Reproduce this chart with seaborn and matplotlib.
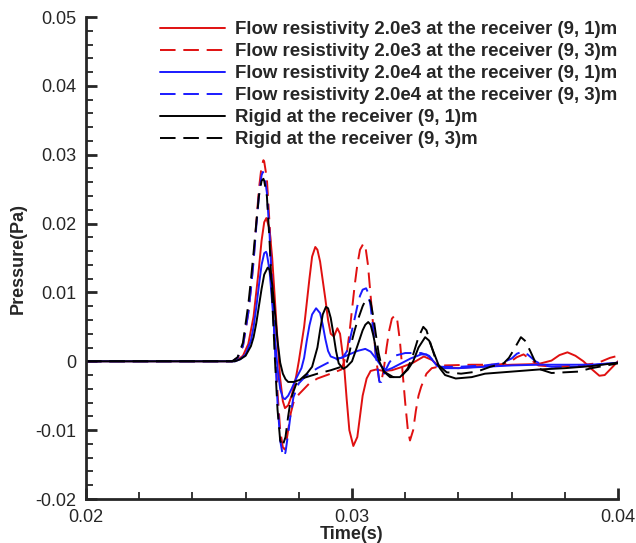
import matplotlib
matplotlib.use("Agg")
import matplotlib.pyplot as plt
from matplotlib.ticker import AutoMinorLocator
import pandas as pd
import seaborn as sns

# series labels
labels = [
    "Flow resistivity 2.0e3 at the receiver (9, 1)m",
    "Flow resistivity 2.0e3 at the receiver (9, 3)m",
    "Flow resistivity 2.0e4 at the receiver (9, 1)m",
    "Flow resistivity 2.0e4 at the receiver (9, 3)m",
    "Rigid at the receiver (9, 1)m",
    "Rigid at the receiver (9, 3)m",
]

# flow resistivity 2.0e3, receiver (9,1)
t_rs = [0.020, 0.0255, 0.0257, 0.0259, 0.0261, 0.0263, 0.0265, 0.0266, 0.0267, 0.02678,
        0.0269, 0.0270, 0.0271, 0.0272, 0.0273, 0.0274, 0.02748, 0.0276, 0.02773, 0.0279,
        0.0280, 0.0282, 0.0284, 0.0285, 0.02862, 0.0287, 0.0288, 0.0290, 0.0291, 0.0292,
        0.02932, 0.02945, 0.02955, 0.0297, 0.0298, 0.0299, 0.03005, 0.0302, 0.0303, 0.0304,
        0.03055, 0.0307, 0.0309, 0.0312, 0.0315, 0.0319, 0.0323, 0.0327, 0.0330, 0.0333,
        0.0340, 0.0350, 0.0360, 0.0370, 0.0375, 0.0378, 0.0381, 0.0384, 0.0387, 0.0390,
        0.0393, 0.0395, 0.0398, 0.0400]
p_rs = [0, 0, 0.0002, 0.0008, 0.0025, 0.0065, 0.0135, 0.0175, 0.0202, 0.0208,
        0.0192, 0.0150, 0.0090, 0.0030, -0.0025, -0.0058, -0.0068, -0.0064, -0.0050, -0.0022,
        0.0000, 0.0050, 0.0120, 0.0152, 0.0166, 0.0162, 0.0145, 0.0090, 0.0060, 0.0040,
        0.0036, 0.0048, 0.0040, -0.0005, -0.0055, -0.0100, -0.0123, -0.0110, -0.0080, -0.0050,
        -0.0025, -0.0014, -0.0012, -0.0014, -0.0013, -0.0008, -0.0002, 0.0007, 0.0002, -0.0008,
        -0.0010, -0.0007, -0.0005, -0.0004, 0.0001, 0.0009, 0.0013, 0.0008, 0.0000, -0.0011,
        -0.0021, -0.0020, -0.0008, 0.0000]

# flow resistivity 2.0e3, receiver (9,3)
t_rd = [0.020, 0.0255, 0.0257, 0.0259, 0.0261, 0.0262, 0.0263, 0.0264, 0.0265, 0.0266,
        0.02667, 0.0267, 0.0268, 0.0269, 0.0270, 0.0271, 0.0272, 0.0273, 0.0274, 0.02747,
        0.0275, 0.0276, 0.0277, 0.0278, 0.0280, 0.0282, 0.0284, 0.0287, 0.0292, 0.0296,
        0.0298, 0.0299, 0.0300, 0.0301, 0.0302, 0.0303, 0.03043, 0.0305, 0.0306, 0.0307,
        0.0308, 0.0309, 0.03103, 0.0311, 0.0312, 0.0313, 0.0314, 0.0315, 0.03162, 0.0317,
        0.0318, 0.0319, 0.0320, 0.0321, 0.03218, 0.0323, 0.0324, 0.0325, 0.0326, 0.0328,
        0.0330, 0.0335, 0.0345, 0.0355, 0.0359, 0.0362, 0.03645, 0.0367, 0.0370, 0.0376,
        0.0385, 0.0392, 0.0397, 0.0400]
p_rd = [0, 0, 0.0005, 0.0022, 0.0070, 0.0105, 0.0148, 0.0200, 0.0250, 0.0283,
        0.0292, 0.0290, 0.0265, 0.0200, 0.0120, 0.0035, -0.0045, -0.0100, -0.0125, -0.0128,
        -0.0125, -0.0100, -0.0075, -0.0060, -0.0048, -0.0040, -0.0032, -0.0025, -0.0018, -0.0012,
        0.0010, 0.0040, 0.0075, 0.0110, 0.0140, 0.0162, 0.0171, 0.0168, 0.0140, 0.0095,
        0.0050, 0.0005, -0.0030, -0.0030, -0.0010, 0.0020, 0.0045, 0.0062, 0.0067, 0.0060,
        0.0030, -0.0015, -0.0060, -0.0100, -0.0115, -0.0100, -0.0072, -0.0050, -0.0037, -0.0018,
        -0.0010, -0.0006, -0.0005, -0.0005, -0.0002, 0.0006, 0.0010, 0.0003, -0.0006, -0.0008,
        -0.0006, -0.0003, 0.0005, 0.0008]

# flow resistivity 2.0e4, receiver (9,1)
t_bs = [0.020, 0.0256, 0.0258, 0.0260, 0.0262, 0.0263, 0.0264, 0.0265, 0.0266, 0.0267,
        0.02677, 0.0268, 0.0269, 0.0270, 0.0271, 0.0272, 0.0273, 0.0274, 0.02748, 0.0276,
        0.02773, 0.0279, 0.0281, 0.0282, 0.0283, 0.0284, 0.0285, 0.02865, 0.0288, 0.0289,
        0.0290, 0.0291, 0.0292, 0.0294, 0.0296, 0.0299, 0.0302, 0.0305, 0.0307, 0.0309,
        0.0311, 0.0313, 0.0315, 0.0318, 0.0322, 0.0326, 0.0328, 0.0330, 0.0332, 0.0335,
        0.0340, 0.0350, 0.0360, 0.0370, 0.0380, 0.0390, 0.0400]
p_bs = [0, 0, 0.0003, 0.0010, 0.0030, 0.0050, 0.0078, 0.0110, 0.0140, 0.0157,
        0.0159, 0.0156, 0.0132, 0.0085, 0.0035, -0.0010, -0.0040, -0.0053, -0.0055, -0.0050,
        -0.0040, -0.0025, -0.0010, 0.0005, 0.0030, 0.0052, 0.0068, 0.0077, 0.0070, 0.0053,
        0.0032, 0.0015, 0.0007, 0.0004, 0.0005, 0.0010, 0.0015, 0.0018, 0.0014, 0.0004,
        -0.0007, -0.0013, -0.0010, -0.0004, 0.0004, 0.0010, 0.0010, 0.0003, -0.0007, -0.0010,
        -0.0010, -0.0008, -0.0006, -0.0005, -0.0005, -0.0005, -0.0002]

# flow resistivity 2.0e4, receiver (9,3)
t_bd = [0.020, 0.0255, 0.0257, 0.0259, 0.0261, 0.0262, 0.0263, 0.0264, 0.0265, 0.0266,
        0.02665, 0.0267, 0.0268, 0.0269, 0.0270, 0.0271, 0.0272, 0.0273, 0.0274, 0.02745,
        0.0275, 0.0276, 0.0277, 0.0278, 0.0280, 0.0283, 0.0287, 0.0292, 0.02966, 0.0298,
        0.0299, 0.0300, 0.0301, 0.0302, 0.0303, 0.0304, 0.03053, 0.0306, 0.0307, 0.0308,
        0.0309, 0.03103, 0.0311, 0.0312, 0.0314, 0.0316, 0.0320, 0.0326, 0.0329, 0.0331,
        0.0333, 0.0340, 0.0350, 0.0356, 0.0360, 0.0362, 0.0364, 0.0366, 0.0369, 0.0372,
        0.0375, 0.0385, 0.0395, 0.0400]
p_bd = [0, 0, 0.0005, 0.0022, 0.0070, 0.0105, 0.0145, 0.0195, 0.0240, 0.0270,
        0.0275, 0.0272, 0.0245, 0.0185, 0.0105, 0.0020, -0.0060, -0.0115, -0.0137, -0.0138,
        -0.0132, -0.0105, -0.0075, -0.0052, -0.0032, -0.0020, -0.0010, 0.0000, 0.0006, 0.0014,
        0.0028, 0.0045, 0.0062, 0.0080, 0.0095, 0.0104, 0.0106, 0.0100, 0.0080, 0.0045,
        0.0008, -0.0030, -0.0030, -0.0018, -0.0002, 0.0008, 0.0012, 0.0012, 0.0008, -0.0002,
        -0.0008, -0.0008, -0.0006, -0.0003, 0.0004, 0.0011, 0.0014, 0.0010, 0.0000, -0.0006,
        -0.0008, -0.0008, -0.0004, -0.0002]

# rigid, receiver (9,1)
t_ks = [0.020, 0.0256, 0.0258, 0.0260, 0.0262, 0.0263, 0.0264, 0.0265, 0.0266, 0.0267,
        0.02683, 0.0269, 0.0270, 0.0271, 0.0272, 0.0273, 0.0274, 0.0275, 0.0276, 0.0278,
        0.02804, 0.0283, 0.0285, 0.0287, 0.0288, 0.0289, 0.02902, 0.0291, 0.0292, 0.0293,
        0.0294, 0.0295, 0.02967, 0.0298, 0.0300, 0.0302, 0.0304, 0.0305, 0.03061, 0.0307,
        0.0308, 0.0309, 0.0310, 0.0312, 0.03143, 0.0318, 0.0321, 0.0323, 0.0325, 0.03275,
        0.0329, 0.0331, 0.0333, 0.0335, 0.0339, 0.0345, 0.0350, 0.0360, 0.0370, 0.0380,
        0.0390, 0.0400]
p_ks = [0, 0, 0.0003, 0.0008, 0.0022, 0.0035, 0.0055, 0.0080, 0.0105, 0.0126,
        0.0136, 0.0133, 0.0112, 0.0072, 0.0030, -0.0002, -0.0018, -0.0026, -0.0030, -0.0030,
        -0.0027, -0.0018, -0.0008, 0.0020, 0.0045, 0.0068, 0.0079, 0.0077, 0.0063, 0.0040,
        0.0015, -0.0003, -0.0011, -0.0008, 0.0000, 0.0022, 0.0045, 0.0053, 0.0057, 0.0053,
        0.0038, 0.0018, 0.0002, -0.0015, -0.0023, -0.0023, -0.0012, 0.0000, 0.0020, 0.0035,
        0.0030, 0.0010, -0.0010, -0.0020, -0.0025, -0.0023, -0.0018, -0.0015, -0.0012, -0.0010,
        -0.0007, -0.0002]

# rigid, receiver (9,3)
t_kd = [0.020, 0.0255, 0.0257, 0.0259, 0.0261, 0.0262, 0.0263, 0.0264, 0.0265, 0.0266,
        0.02667, 0.0267, 0.0268, 0.0269, 0.0270, 0.0271, 0.0272, 0.0273, 0.02738, 0.0275,
        0.0276, 0.0277, 0.0279, 0.0282, 0.0287, 0.0292, 0.0296, 0.0298, 0.0299, 0.0300,
        0.0301, 0.0302, 0.0304, 0.0305, 0.03061, 0.0307, 0.0308, 0.0309, 0.0310, 0.0311,
        0.0312, 0.03155, 0.0319, 0.0321, 0.0323, 0.0325, 0.03268, 0.0328, 0.0330, 0.0332,
        0.03356, 0.0341, 0.0347, 0.0352, 0.0357, 0.0359, 0.0361, 0.03635, 0.0365, 0.0367,
        0.0369, 0.0371, 0.0375, 0.0385, 0.0390, 0.0400]
p_kd = [0, 0, 0.0006, 0.0027, 0.0082, 0.0118, 0.0158, 0.0200, 0.0240, 0.0262,
        0.0265, 0.0262, 0.0240, 0.0175, 0.0090, 0.0005, -0.0070, -0.0115, -0.0124, -0.0110,
        -0.0080, -0.0055, -0.0033, -0.0024, -0.0018, -0.0013, -0.0008, -0.0002, 0.0012, 0.0030,
        0.0045, 0.0058, 0.0080, 0.0088, 0.0091, 0.0086, 0.0065, 0.0038, 0.0012, -0.0005,
        -0.0015, -0.0023, -0.0020, -0.0010, 0.0010, 0.0035, 0.0050, 0.0045, 0.0020, -0.0004,
        -0.0016, -0.0018, -0.0015, -0.0008, -0.0003, 0.0005, 0.0018, 0.0035, 0.0030, 0.0015,
        -0.0002, -0.0012, -0.0017, -0.0015, -0.0010, -0.0003]

x_ticks = [0.02, 0.03, 0.04]
x_tick_labels = ["0.02", "0.03", "0.04"]
y_ticks = [-0.02, -0.01, 0.0, 0.01, 0.02, 0.03, 0.04, 0.05]
y_tick_labels = ["-0.02", "-0.01", "0", "0.01", "0.02", "0.03", "0.04", "0.05"]

series = [(t_rs, p_rs), (t_rd, p_rd), (t_bs, p_bs), (t_bd, p_bd), (t_ks, p_ks), (t_kd, p_kd)]
frames = []
for lab, (t, p) in zip(labels, series):
    frames.append(pd.DataFrame({"t": t, "p": p, "series": lab}))
df = pd.concat(frames, ignore_index=True)

colors = ["#e01010", "#e01010", "#1a1aff", "#1a1aff", "black", "black"]
palette = dict(zip(labels, colors))
dashes = dict(zip(labels, ["", (8, 4), "", (8, 4), "", (8, 4)]))

sns.set_style("ticks")
plt.rcParams['font.family'] = ['Liberation Sans', 'DejaVu Sans']
plt.rcParams['axes.unicode_minus'] = False

fig = plt.figure(figsize=(6.36, 5.43), dpi=100)
ax = fig.add_axes([86 / 636, 44 / 543, 532 / 636, 482 / 543])

sns.lineplot(data=df, x="t", y="p", hue="series", style="series", hue_order=labels,
             style_order=labels, palette=palette, dashes=dashes, sort=False,
             estimator=None, lw=1.4, ax=ax)

ax.set_xlim(0.02, 0.04)
ax.set_ylim(-0.02, 0.05)
ax.set_xticks(x_ticks)
ax.set_xticklabels(x_tick_labels)
ax.set_yticks(y_ticks)
ax.set_yticklabels(y_tick_labels)
ax.xaxis.set_minor_locator(AutoMinorLocator(5))
ax.yaxis.set_minor_locator(AutoMinorLocator(5))
ax.tick_params(which="major", direction="in", length=8, width=2, labelsize=13, pad=7)
ax.tick_params(which="minor", direction="in", length=5, width=1.3)
for s in ["top", "right"]:
    ax.spines[s].set_visible(False)
for s in ["left", "bottom"]:
    ax.spines[s].set_linewidth(2)

ax.set_xlabel("Time(s)", fontsize=13, fontweight="bold", labelpad=0)
ax.set_ylabel("Pressure(Pa)", fontsize=13, fontweight="bold", labelpad=6)

handles, labs = ax.get_legend_handles_labels()
leg = ax.legend(handles, labs, loc="upper left", bbox_to_anchor=(160 / 636, 1 - 21 / 543),
                bbox_transform=fig.transFigure, frameon=False,
                prop={"weight": "bold", "size": 13.4}, handlelength=3.5, handletextpad=0.55,
                labelspacing=0.27, borderpad=0, borderaxespad=0)

fig.savefig("out.png", dpi=100)
